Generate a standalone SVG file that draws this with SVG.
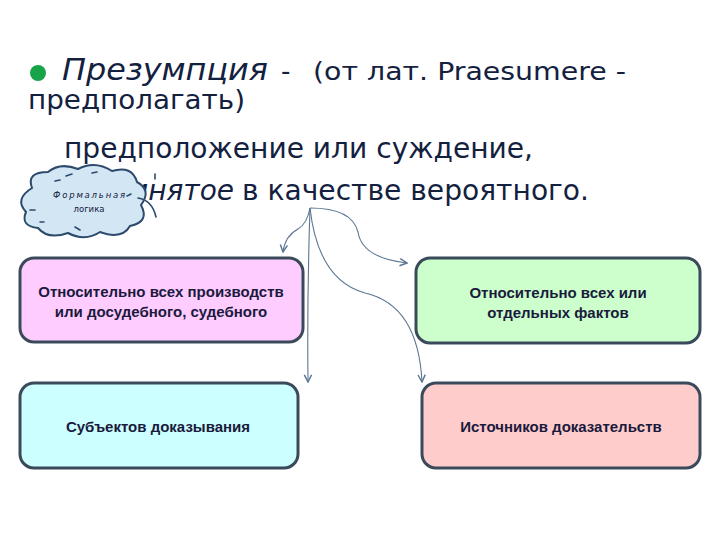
<svg xmlns="http://www.w3.org/2000/svg" width="720" height="540" viewBox="0 0 720 540">
<defs>
<style>
.t{font-family:"DejaVu Sans","Noto Sans",sans-serif;fill:#13213f}
.b{font-family:"Liberation Sans",Arial,sans-serif;font-weight:bold;font-size:15px;fill:#1a1a3c;text-anchor:middle}
.box{stroke:#3b4a5a;stroke-width:3}
.c{fill:none;stroke:#5b7693;stroke-width:1.1}
.ah{fill:none;stroke:#5b7693;stroke-width:1.6;stroke-linejoin:miter}
.cl{fill:#d3e6f3;stroke:#2d4a6c;stroke-width:2}
.mk{fill:none;stroke:#2d4a6c;stroke-width:1.6;stroke-linecap:round}
</style>
<marker id="arr" viewBox="0 0 10 10" refX="9" refY="5" markerWidth="9" markerHeight="9" orient="auto" markerUnits="userSpaceOnUse">
<path d="M1 1 L9 5 L1 9" class="ah"/>
</marker>
</defs>
<rect width="720" height="540" fill="#ffffff"/>

<g id="title">
<circle cx="38" cy="73" r="8" fill="#17a34a"/>
<text class="t" x="62" y="80" font-size="30" font-style="italic" textLength="206" lengthAdjust="spacingAndGlyphs">Презумпция</text>
<text class="t" x="281" y="80" font-size="26">-</text>
<text class="t" x="313" y="80" font-size="25" textLength="313" lengthAdjust="spacingAndGlyphs">(от лат. Praesumere -</text>
<text class="t" x="28" y="109" font-size="26" textLength="217" lengthAdjust="spacingAndGlyphs">предполагать)</text>
<text class="t" x="64" y="158" font-size="28" textLength="469" lengthAdjust="spacingAndGlyphs">предположение или суждение,</text>
<text class="t" x="234" y="200" font-size="28" font-style="italic" text-anchor="end">принятое</text>
<text class="t" x="242" y="200" font-size="28" textLength="347" lengthAdjust="spacingAndGlyphs">в качестве вероятного.</text>
</g>

<g id="cloud">
<path class="cl" d="M32 188 Q26 172 48 172 Q60 162 78 169 Q95 160 112 171 Q132 165 137 182 Q152 190 141 205 Q150 222 130 226 Q122 240 100 232 Q85 242 68 233 Q48 240 38 228 Q20 226 26 212 Q14 199 32 188 Z"/>
<path class="mk" d="M66 176 L72 174 M92 173 L97 172 M30 210 L35 210 M40 222 L44 222 M75 227 L80 230 M127 196 L131 194 M55 181 L60 180"/>
<path class="mk" d="M138 198 Q152 200 156 217"/>
<path class="mk" d="M155 174 L155 179"/>
<text x="90" y="198" font-family="'DejaVu Sans',sans-serif" font-size="8.5" font-style="italic" fill="#13213f" text-anchor="middle" letter-spacing="1.8">Формальная</text>
<text x="89" y="212" font-family="'DejaVu Sans',sans-serif" font-size="8.5" fill="#13213f" text-anchor="middle">логика</text>
</g>

<g id="connectors">
<path class="c" d="M310 208 Q307 224 298 229 Q285 236 283 252" marker-end="url(#arr)"/>
<path class="c" d="M310 208 Q352 208 358 232 Q362 258 407 263" marker-end="url(#arr)"/>
<path class="c" d="M310 208 Q307 300 308 382" marker-end="url(#arr)"/>
<path class="c" d="M310 208 Q318 280 365 293 Q418 305 422 382" marker-end="url(#arr)"/>
</g>

<g id="n1">
<rect class="box" x="20" y="258" width="283" height="84" rx="14" fill="#ffccff"/>
<text class="b" x="161" y="297">Относительно всех производств</text>
<text class="b" x="161" y="317">или досудебного, судебного</text>
</g>
<g id="n2">
<rect class="box" x="416" y="258" width="284" height="85" rx="14" fill="#ccffcc"/>
<text class="b" x="558" y="298">Относительно всех или</text>
<text class="b" x="558" y="318">отдельных фактов</text>
</g>
<g id="n3">
<rect class="box" x="20" y="383" width="278" height="85" rx="14" fill="#ccffff"/>
<text class="b" x="158" y="432">Субъектов доказывания</text>
</g>
<g id="n4">
<rect class="box" x="422" y="383" width="278" height="85" rx="14" fill="#ffcccc"/>
<text class="b" x="561" y="432">Источников доказательств</text>
</g>
</svg>
